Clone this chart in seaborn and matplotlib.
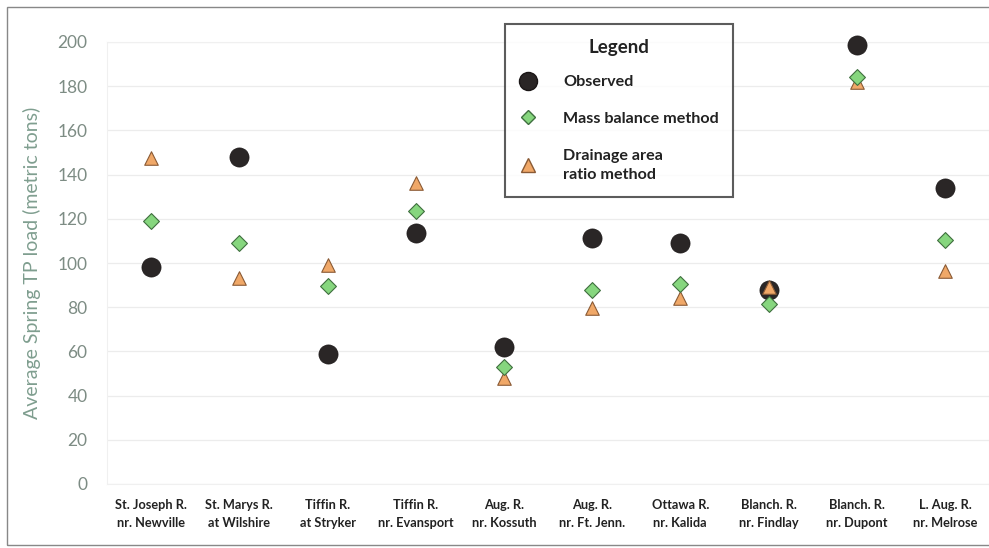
import matplotlib
matplotlib.use("Agg")
import matplotlib.pyplot as plt
import seaborn as sns
import pandas as pd
from matplotlib.lines import Line2D
from matplotlib.patches import Rectangle

sites = ["St. Joseph R.\nnr. Newville", "St. Marys R.\nat Wilshire", "Tiffin R.\nat Stryker",
         "Tiffin R.\nnr. Evansport", "Aug. R.\nnr. Kossuth", "Aug. R.\nnr. Ft. Jenn.",
         "Ottawa R.\nnr. Kalida", "Blanch. R.\nnr. Findlay", "Blanch. R.\nnr. Dupont",
         "L. Aug. R.\nnr. Melrose"]
observed = [98, 148, 59, 113.5, 62, 111.5, 109, 88, 198.5, 134]
mass_balance = [119, 109, 89.5, 123.5, 53, 88, 90.5, 81.5, 184, 110.5]
drainage_ratio = [147.5, 93, 99, 136, 48, 79.5, 84, 89, 182, 96.5]
series_names = ["Observed", "Mass balance method", "Drainage area\nratio method"]
y_ticks = [0, 20, 40, 60, 80, 100, 120, 140, 160, 180, 200]

sns.set_style("white")
plt.rcParams['font.family'] = ['Lato', 'DejaVu Sans']

df = pd.DataFrame({
    "site": sites * 3,
    "load": observed + mass_balance + drainage_ratio,
    "method": [series_names[0]] * len(sites) + [series_names[1]] * len(sites) + [series_names[2]] * len(sites),
})
df["x"] = df["site"].map({s: i for i, s in enumerate(sites)})

fig = plt.figure(figsize=(9.89, 5.48), dpi=100)
ax = fig.add_axes([107/989, 1 - 484/548, 882/989, 442/548])

styles = {
    series_names[0]: dict(marker="o", s=190, color="#2a2626", edgecolor="#1a1616", linewidth=0.5, zorder=3),
    series_names[2]: dict(marker="^", s=95, color="#f0a868", edgecolor="#8a5a35", linewidth=0.8, zorder=4),
    series_names[1]: dict(marker="D", s=65, color="#86d67e", edgecolor="#3f6f3f", linewidth=0.8, zorder=5),
}
for name in [series_names[0], series_names[2], series_names[1]]:
    sub = df[df["method"] == name]
    st = styles[name]
    sns.scatterplot(data=sub, x="x", y="load", ax=ax, marker=st["marker"], s=st["s"],
                    color=st["color"], edgecolor=st["edgecolor"], linewidth=st["linewidth"],
                    zorder=st["zorder"], clip_on=False, legend=False)

ax.set_xlim(-0.5, len(sites) - 0.5)
ax.set_ylim(0, 200)
ax.set_yticks(y_ticks)
ax.set_yticklabels([str(t) for t in y_ticks], fontsize=12.5, color="#7d8c84")
ax.set_xticks(range(len(sites)))
ax.set_xticklabels(sites, fontsize=9.2, fontweight="bold", color="#222222", linespacing=1.55)
ax.tick_params(axis="both", length=0)
ax.tick_params(axis="y", pad=14)
ax.tick_params(axis="x", pad=11)
ax.set_xlabel("")
ax.set_ylabel("Average Spring TP load (metric tons)", fontsize=14, color="#7f9e8f", labelpad=12)
ax.grid(axis="y", color="#ececec", linewidth=0.9)
ax.set_axisbelow(True)
for sp in ax.spines.values():
    sp.set_color("#f0f0f0")
    sp.set_linewidth(0.8)

handles = [
    Line2D([], [], linestyle="none", marker="o", markersize=13, markerfacecolor="#2a2626",
           markeredgecolor="#1a1616"),
    Line2D([], [], linestyle="none", marker="D", markersize=7.5, markerfacecolor="#86d67e",
           markeredgecolor="#3f6f3f"),
    Line2D([], [], linestyle="none", marker="^", markersize=10, markerfacecolor="#f0a868",
           markeredgecolor="#8a5a35"),
]
leg = fig.legend(handles, series_names, loc="upper left", bbox_to_anchor=(505/989, 1 - 24/548),
                 title="Legend", frameon=True, fancybox=False, borderpad=0.9, labelspacing=1.4,
                 handlelength=1.0, handletextpad=1.7, borderaxespad=0,
                 prop={"weight": "bold", "size": 11.6},
                 title_fontproperties={"weight": "bold", "size": 13.5})
leg.get_frame().set_edgecolor("#333333")
leg.get_frame().set_linewidth(1.5)
leg._legend_box.sep = 14
for t in leg.get_texts():
    t.set_color("#222222")
    t.set_linespacing(1.5)
leg.get_title().set_color("#222222")

fig.patches.append(Rectangle((7/989, 3/548), 1.0, 1 - 10/548, transform=fig.transFigure,
                             fill=False, edgecolor="#888888", linewidth=1.0))

fig.savefig("out.png", dpi=100)
